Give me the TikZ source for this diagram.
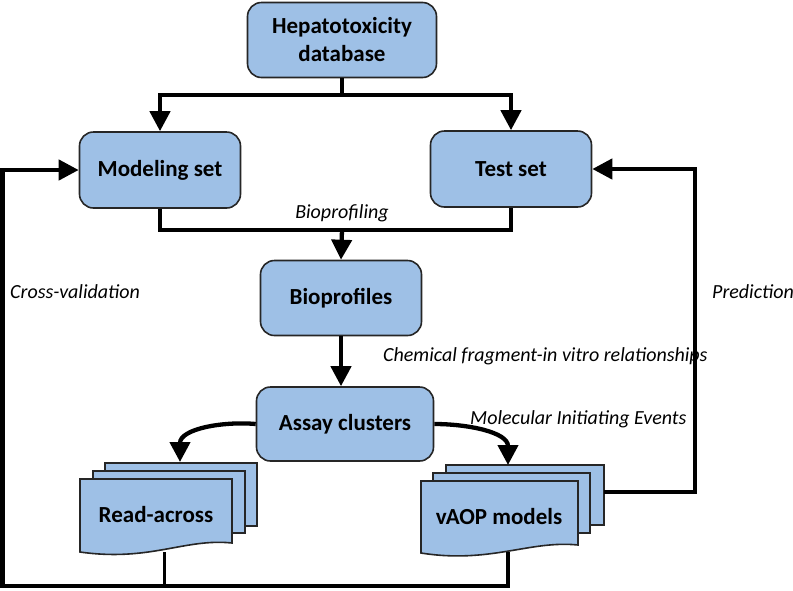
\documentclass[tikz,border=0pt]{standalone}
\usepackage{fontspec}
\setmainfont{Carlito}
\usetikzlibrary{arrows.meta,calc}
\definecolor{boxblue}{RGB}{158,192,230}
\tikzset{
  procbox/.style={draw=black!85, line width=1.6pt, fill=boxblue, rounded corners=14pt,
    font=\fontsize{23}{28}\selectfont\bfseries, align=center, inner sep=0pt},
  doclabel/.style={font=\fontsize{23}{28}\selectfont\bfseries, inner sep=0pt},
  docpart/.style={draw=black!85, line width=1.6pt, fill=boxblue},
  conn/.style={line width=4.3pt, line cap=butt},
  arr/.style={conn, -{Triangle[length=20pt,width=20pt]}},
  lbl/.style={font=\fontsize{20}{24}\selectfont\itshape, inner sep=0pt}
}
\begin{document}
\begin{tikzpicture}[x=1pt,y=-1pt]
\useasboundingbox (0,0) rectangle (793,590);

% process boxes
\node[procbox, minimum width=189pt, minimum height=75pt] (hep) at (342,40) {Hepatotoxicity\\database};
\node[procbox, minimum width=161pt, minimum height=76pt] (mod) at (160,170) {Modeling set};
\node[procbox, minimum width=161pt, minimum height=76pt] (test) at (511,169) {Test set};
\node[procbox, minimum width=161pt, minimum height=75pt] (bio) at (341,298) {Bioprofiles};
\node[procbox, minimum width=177pt, minimum height=74pt] (assay) at (345,424) {Assay clusters};

% Read-across document stack
\draw[docpart] (105,463) rectangle (257,526);
\draw[docpart] (93,471) rectangle (245,533);
\draw[docpart] (80,479) -- (232,479) -- (232,543)
  .. controls (185,538) and (150,562) .. (80,552) -- cycle;
\node[doclabel] (ra) at (156,515) {Read-across};
\coordinate (rab) at (164,552);
\coordinate (ratop) at (180,462);

% vAOP document stack
\draw[docpart] (446,465) rectangle (604,525);
\draw[docpart] (433,473) rectangle (590,533);
\draw[docpart] (421,481) -- (578,481) -- (578,545)
  .. controls (530,540) and (490,564) .. (421,553) -- cycle;
\node[doclabel] (vaop) at (499,517) {vAOP models};
\coordinate (vab) at (508,552);
\coordinate (vtop) at (508,465);
\coordinate (vr) at (604,492);

% connectors
\coordinate (split) at (342,95);
\draw[conn] (hep.south) -- (split);
\draw[arr] ($(split)+(2.15,0)$) -| (mod.north);
\draw[arr] ($(split)-(2.15,0)$) -| (test.north);

\coordinate (merge) at (342,230);
\draw[conn] (mod.south) |- (merge) -| (test.south);
\draw[arr] (merge) -- (bio.north);
\node[lbl, above] (bpl) at (342,222) {Bioprofiling};

\draw[arr] (bio.south) -- (bio.south |- assay.north);
\node[lbl, anchor=west] (cfl) at (383,356) {Chemical fragment-in vitro relationships};

\draw[arr] (assay.west) to[out=175,in=90] (ratop);
\draw[arr] (assay.east) to[out=0,in=90] (vtop);
\node[lbl, anchor=west] (mie) at (470,419) {Molecular Initiating Events};

\coordinate (pc) at (695,492);
\draw[arr] (vr) -- (pc) |- (test.east);
\node[lbl, anchor=west] (pred) at (712,292) {Prediction};

\coordinate (cv) at (2.5,586);
\draw[line width=3pt] (rab) -- (rab |- cv);
\draw[arr] (vab) |- (cv) |- (mod.west);
\node[lbl, anchor=west] (cvl) at (10,292) {Cross-validation};
\end{tikzpicture}
\end{document}
